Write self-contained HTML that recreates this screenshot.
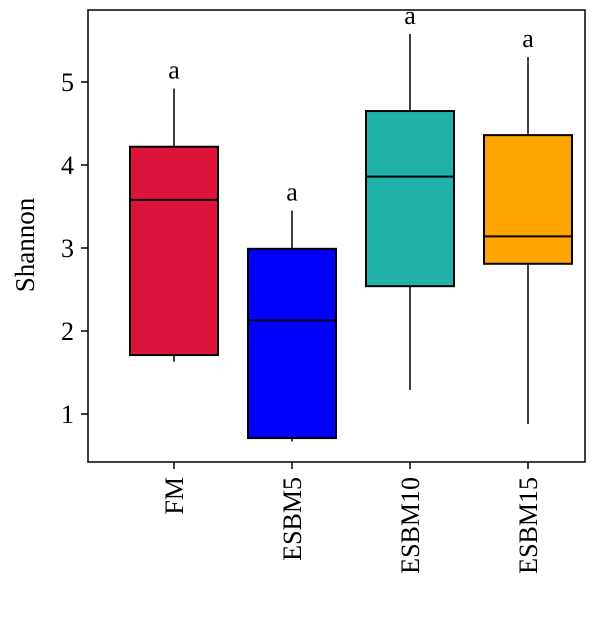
<!DOCTYPE html>
<html><head><meta charset="utf-8"><style>
body{margin:0;background:#fff}
svg text{font-family:"Liberation Serif",serif;fill:#000}
</style></head><body>
<svg id="chart" width="600" height="629" viewBox="0 0 600 629">
<rect x="88" y="10" width="497" height="452" fill="none" stroke="#000" stroke-width="1.5"/>
<g id="marks"></g>
<text x="0" y="0" transform="translate(34,245) rotate(-90)" text-anchor="middle" font-size="27">Shannon</text>
</svg>
<script>
const categories=["FM","ESBM5","ESBM10","ESBM15"];
const whiskerLow=[1.63,0.67,1.29,0.88];
const q1=[1.71,0.71,2.54,2.81];
const medians=[3.58,2.13,3.86,3.14];
const q3=[4.22,2.99,4.65,4.36];
const whiskerHigh=[4.92,3.45,5.58,5.30];
const letters=["a","a","a","a"];
const colors=["#DC143C","#0000FF","#20B2AA","#FFA500"];
const yTicks=[1,2,3,4,5];
const NS="http://www.w3.org/2000/svg";
const g=document.getElementById("marks");
const y=v=>414-(v-1)*83;
const x=i=>174+i*118;
const bw=88;
function mk(t,a){const e=document.createElementNS(NS,t);for(const k in a)e.setAttribute(k,a[k]);g.appendChild(e);return e;}
yTicks.forEach(t=>{
 const l=mk("line",{x1:81,x2:88,y1:y(t),y2:y(t),stroke:"#000","stroke-width":1.5});
 
 
 const tx=mk("text",{x:74,y:y(t)+9,"text-anchor":"end","font-size":26});
 tx.textContent=t;
 
 
});
categories.forEach((c,i)=>{
 const cx=x(i);
 const w=mk("line",{x1:cx,x2:cx,y1:y(whiskerHigh[i]),y2:y(whiskerLow[i]),stroke:"#000","stroke-width":1.5});
 
 
 const b=mk("rect",{x:cx-bw/2,y:y(q3[i]),width:bw,height:y(q1[i])-y(q3[i]),fill:colors[i],stroke:"#000","stroke-width":2});
 
 
 const m=mk("line",{x1:cx-bw/2,x2:cx+bw/2,y1:y(medians[i]),y2:y(medians[i]),stroke:"#000","stroke-width":2});
 
 
 const lt=mk("text",{x:cx,y:y(whiskerHigh[i])-10,"text-anchor":"middle","font-size":26});
 lt.textContent=letters[i];
 
 
 const tk=mk("line",{x1:cx,x2:cx,y1:462,y2:469,stroke:"#000","stroke-width":1.5});
 
 
 const xl=mk("text",{x:0,y:0,transform:`translate(${cx+9},477) rotate(-90)`,"text-anchor":"end","font-size":26});
 xl.textContent=c;
 
 
});
</script>
</body></html>
